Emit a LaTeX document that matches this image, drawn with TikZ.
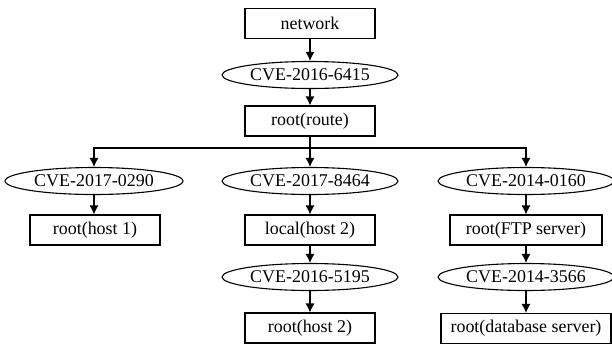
\documentclass[tikz,border=0pt]{standalone}
\usepackage{fontspec}
\setmainfont{Liberation Serif}
\usetikzlibrary{shapes.geometric,arrows.meta}
\begin{document}
\begin{tikzpicture}[x=1bp,y=-1bp,
  every node/.style={font=\fontsize{18}{20}\selectfont, line width=1.1bp, inner sep=0pt},
  box/.style={draw, rectangle, minimum height=30bp, minimum width=130bp},
  vuln/.style={draw, ellipse, minimum height=27bp, minimum width=176bp},
  arr/.style={line width=1.1bp, -{Latex[length=9bp,width=9bp]}}]
\useasboundingbox (0,0) rectangle (612,348);
\node[box] (net) at (310,23.5) {network};
\node[vuln] (e6415) at (310,75) {CVE-2016-6415};
\node[box] (route) at (310,121) {root(route)};
\coordinate (bus) at (310,148);
\node[vuln, minimum width=178bp] (e0290) at (94,181) {CVE-2017-0290};
\node[vuln] (e8464) at (310,181) {CVE-2017-8464};
\node[vuln] (e0160) at (526,181) {CVE-2014-0160};
\node[box] (h1) at (95,230) {root(host 1)};
\node[box] (loc2) at (310,230) {local(host 2)};
\node[box, minimum width=152bp] (ftp) at (526,230) {root(FTP server)};
\node[vuln] (e5195) at (310,277) {CVE-2016-5195};
\node[vuln] (e3566) at (526,277) {CVE-2014-3566};
\node[box] (h2) at (310,328) {root(host 2)};
\node[box, minimum width=170bp] (db) at (526,328.5) {root(database server)};
\draw[arr] (net) -- (e6415);
\draw[arr] (e6415) -- (route);
\draw[arr] (route) -- (e8464);
\draw[arr] (bus) -| (e0290);
\draw[arr] (bus) -| (e0160);
\draw[arr] (e0290) -- (e0290 |- h1.north);
\draw[arr] (e8464) -- (loc2);
\draw[arr] (loc2) -- (e5195);
\draw[arr] (e5195) -- (h2);
\draw[arr] (e0160) -- (ftp);
\draw[arr] (ftp) -- (e3566);
\draw[arr] (e3566) -- (db);
\end{tikzpicture}
\end{document}
